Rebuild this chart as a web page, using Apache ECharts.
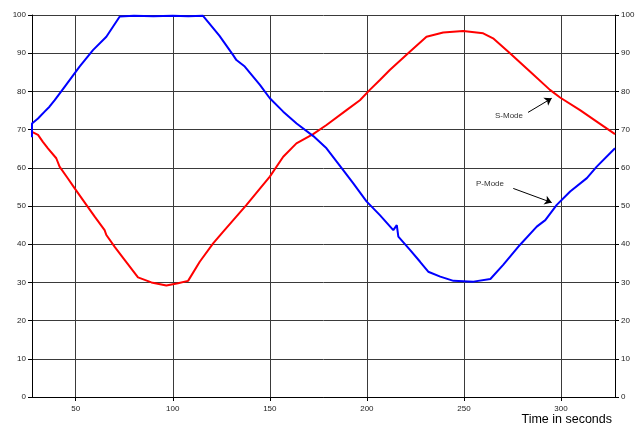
<!DOCTYPE html>
<html>
<head>
<meta charset="utf-8">
<style>
  html, body { margin: 0; padding: 0; background: #ffffff; }
  #chart { width: 641px; height: 428px; }
</style>
<script src="https://cdn.jsdelivr.net/npm/echarts@6/dist/echarts.min.js"></script>
</head>
<body>
<div id="chart"></div>
<script>
// P-Mode trace: time (s) and value
const pTime = [27.5, 27.5, 30.6, 34.0, 36.5, 39.2, 44.3, 52.0, 58.9, 65.8, 72.7, 80, 90, 100, 108, 115.6,
  124.0, 131.1, 132.8, 137.1, 144.9, 150.0, 156.9, 163.8, 172.4, 179.2, 187.8, 193.0, 199.8, 206.7,
  213.6, 215.4, 216.2, 222.2, 227.4, 231.6, 237.8, 244.6, 254.9, 263.6, 270.2, 278.8, 287.5, 291.9,
  297.8, 304.7, 313.3, 318.4, 327.8];
const pValue = [68.0, 71.6, 72.9, 74.7, 76.0, 77.7, 81.2, 86.5, 90.8, 94.3, 99.6, 99.8, 99.7, 99.8, 99.7, 99.8,
  94.6, 89.5, 88.2, 86.5, 81.7, 78.2, 74.7, 71.6, 68.3, 65.1, 59.4, 55.9, 51.2, 47.6,
  43.7, 45.0, 42.0, 38.5, 35.4, 32.8, 31.5, 30.4, 30.2, 30.9, 34.6, 39.8, 44.6, 46.3,
  50.3, 53.8, 57.3, 60.3, 65.1];

// S-Mode trace: time (s) and value
const sTime = [27.5, 30.6, 33.1, 35.7, 40.0, 41.7, 46.0, 49.5, 55.5, 59.8, 64.9, 65.8, 70.1, 75.2, 82.1,
  89.0, 96.7, 102.7, 107.9, 113.9, 120.8, 126.0, 138.0, 145.0, 150.0, 156.9, 163.7, 172.3, 179.2,
  189.5, 196.4, 201.5, 206.7, 211.8, 222.1, 230.7, 239.3, 249.6, 259.9, 265.0, 273.7, 284.0, 294.3,
  299.5, 309.8, 318.4, 327.8];
const sValue = [69.4, 68.6, 66.8, 65.1, 62.5, 60.3, 57.2, 54.6, 50.3, 47.2, 43.7, 42.4, 39.3, 35.9, 31.3,
  30.0, 29.2, 29.8, 30.4, 35.4, 40.2, 43.3, 50.3, 54.6, 57.7, 62.9, 66.4, 68.8, 71.2,
  75.1, 77.7, 80.4, 83.0, 85.6, 90.4, 94.3, 95.4, 95.8, 95.2, 93.9, 90.0, 85.2, 80.4,
  78.4, 75.1, 72.1, 68.8];

// Axis ranges
const timeMin = 27.5;
const timeMax = 327.8;
const valueMin = 0;
const valueMax = 100;
const valueStep = 10;

// Callout labels: text, label position, arrow start, arrow end
const callouts = [
  { text: 'S-Mode', at: [273.2, 73.7], from: [283.0, 74.5], to: [295.2, 78.2] },
  { text: 'P-Mode', at: [263.4, 55.9], from: [275.4, 54.6], to: [295.2, 50.9] }
];

const zip = (xs, ys) => xs.map((x, i) => [x, ys[i]]);

const font = '"Liberation Sans", Arial, sans-serif';
const gridLine = { show: true, lineStyle: { color: '#3a3a3a', width: 1 } };
const tickLabel = { color: '#222', fontSize: 8, fontFamily: font };

const chart = echarts.init(document.getElementById('chart'), null, { renderer: 'canvas' });

chart.setOption({
  animation: false,
  backgroundColor: '#ffffff',
  grid: { left: 32, right: 26, top: 15, bottom: 31, containLabel: false },
  xAxis: {
    type: 'value',
    min: timeMin,
    max: timeMax,
    axisLine: { show: true, onZero: false, lineStyle: { color: '#000', width: 1 } },
    axisTick: { show: true, length: 4, lineStyle: { color: '#000' } },
    axisLabel: Object.assign({ showMinLabel: false, showMaxLabel: false, margin: 8 }, tickLabel),
    splitLine: gridLine
  },
  yAxis: [
    {
      type: 'value', min: valueMin, max: valueMax, interval: valueStep, position: 'left',
      axisLine: { show: true, lineStyle: { color: '#000', width: 1 } },
      axisTick: { show: true, length: 4, lineStyle: { color: '#000' } },
      axisLabel: Object.assign({ margin: 6 }, tickLabel),
      splitLine: gridLine
    },
    {
      type: 'value', min: valueMin, max: valueMax, interval: valueStep, position: 'right',
      axisLine: { show: true, lineStyle: { color: '#000', width: 1 } },
      axisTick: { show: true, length: 4, lineStyle: { color: '#000' } },
      axisLabel: Object.assign({ margin: 6 }, tickLabel),
      splitLine: { show: false }
    }
  ],
  graphic: [
    {
      type: 'text', right: 29, top: 413,
      style: { text: 'Time in seconds', fill: '#000', font: '12.5px ' + font, textAlign: 'right' }
    }
  ],
  series: [
    {
      name: 'S-Mode', type: 'line', data: zip(sTime, sValue), showSymbol: false,
      lineStyle: { color: '#ff0000', width: 2 }, itemStyle: { color: '#ff0000' }
    },
    {
      name: 'P-Mode', type: 'line', data: zip(pTime, pValue), showSymbol: false,
      lineStyle: { color: '#0000ff', width: 2 }, itemStyle: { color: '#0000ff' }
    },
    {
      name: 'callouts', type: 'line', data: [], silent: true, z: 5,
      markLine: {
        silent: true,
        symbol: ['none', 'arrow'],
        symbolSize: 7,
        lineStyle: { color: '#000', width: 1, type: 'solid' },
        itemStyle: { color: '#000' },
        label: { show: false },
        emphasis: { disabled: true },
        data: callouts.map(c => [
          { coord: c.from, symbol: 'none' },
          { coord: c.to, symbol: 'arrow', symbolSize: 7 }
        ])
      },
      markPoint: {
        silent: true,
        symbol: 'circle',
        symbolSize: 0,
        label: { show: true, position: 'inside', color: '#333', fontSize: 8, fontFamily: font },
        data: callouts.map(c => ({ coord: c.at, value: c.text, label: { formatter: c.text } }))
      }
    }
  ]
});
</script>
</body>
</html>
